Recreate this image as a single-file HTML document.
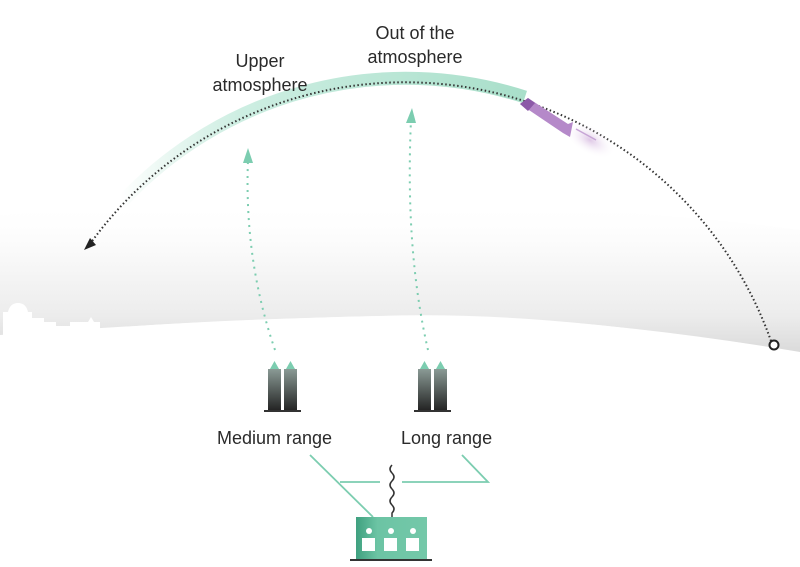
<!DOCTYPE html>
<html><head><meta charset="utf-8"><style>
html,body{margin:0;padding:0;background:#fff;}
svg{display:block;}
text{font-family:"Liberation Sans",sans-serif;fill:#2a2a2a;font-size:18px;}
</style></head><body>
<svg width="800" height="567" viewBox="0 0 800 567" xmlns="http://www.w3.org/2000/svg">
<defs>
<linearGradient id="haze" x1="0" y1="0" x2="0" y2="1">
<stop offset="0" stop-color="#fff" stop-opacity="0"/>
<stop offset="0.35" stop-color="#f9f9f9"/>
<stop offset="0.75" stop-color="#ececec"/>
<stop offset="1" stop-color="#d9d9d9"/>
</linearGradient>
<linearGradient id="band" x1="120" y1="0" x2="525" y2="0" gradientUnits="userSpaceOnUse">
<stop offset="0" stop-color="#c5eadb" stop-opacity="0"/>
<stop offset="0.3" stop-color="#cdeee2"/>
<stop offset="1" stop-color="#a9dfca"/>
</linearGradient>
<linearGradient id="tube" x1="0" y1="0" x2="0" y2="1">
<stop offset="0" stop-color="#8a9a95"/>
<stop offset="1" stop-color="#222"/>
</linearGradient>
<linearGradient id="bld" x1="0" y1="0" x2="1" y2="0">
<stop offset="0" stop-color="#3fa07f"/>
<stop offset="0.3" stop-color="#6cc4a4"/>
<stop offset="1" stop-color="#74c8a9"/>
</linearGradient>
<radialGradient id="glow" cx="0.5" cy="0.5" r="0.5">
<stop offset="0" stop-color="#c9a3d6" stop-opacity="0.6"/>
<stop offset="1" stop-color="#fff" stop-opacity="0"/>
</radialGradient>
</defs>
<!-- haze -->
<path d="M0 215 Q400 180 800 230 L800 355 Q560 310 380 316 Q200 320 0 335 Z" fill="url(#haze)"/>
<!-- skyline cutout -->
<path d="M3 345 L3 312 L8 312 Q10 303 18 303 Q26 303 28 312 L32 312 L32 318 L44 318 L44 322 L56 322 L56 326 L70 326 L70 322 L88 322 L91 317 L94 322 L100 322 L100 329 Q200 320 380 316 Q560 312 800 352 L800 567 L0 567 Z" fill="#fff"/>
<!-- trajectory band -->
<path d="M120 204 A388 388 0 0 1 525 97" fill="none" stroke="url(#band)" stroke-width="13"/>
<!-- dotted trajectory -->
<path d="M771 341 A388 388 0 0 0 90 244" fill="none" stroke="#333" stroke-width="2" stroke-dasharray="1.5 2.5"/>
<polygon points="84,250 90,238 96,245" fill="#222"/>
<circle cx="774" cy="345" r="4.5" fill="#fff" stroke="#222" stroke-width="2"/>
<!-- missile -->
<ellipse cx="590" cy="140" rx="28" ry="14" fill="url(#glow)" transform="rotate(30 590 140)"/>
<rect x="595" y="110" width="20" height="50" fill="#fff" opacity="0"/>
<polygon points="520,104 528,98 568,124 573,122 570,137 563,133" fill="#b589c9"/>
<polygon points="520,104 528,98 535,103 528,111" fill="#8c5aa8"/>
<line x1="576" y1="129" x2="596" y2="140" stroke="#c7a5d6" stroke-width="1.5"/>
<!-- interceptor paths -->
<path d="M275 350 Q244 260 248 160" fill="none" stroke="#7ccdb0" stroke-width="2" stroke-dasharray="2 5"/>
<polygon points="243,163 248,148 253,163" fill="#7ccdb0"/>
<path d="M428 350 Q405 250 411 120" fill="none" stroke="#7ccdb0" stroke-width="2" stroke-dasharray="2 5"/>
<polygon points="406,123 412,108 416,123" fill="#7ccdb0"/>
<!-- launchers -->
<g>
<rect x="268" y="369" width="13" height="42" fill="url(#tube)"/>
<rect x="284" y="369" width="13" height="42" fill="url(#tube)"/>
<polygon points="270,369 274.5,361 279,369" fill="#7ccdb0"/>
<polygon points="286,369 290.5,361 295,369" fill="#7ccdb0"/>
<rect x="264" y="410" width="37" height="2" fill="#333"/>
</g>
<g>
<rect x="418" y="369" width="13" height="42" fill="url(#tube)"/>
<rect x="434" y="369" width="13" height="42" fill="url(#tube)"/>
<polygon points="420,369 424.5,361 429,369" fill="#7ccdb0"/>
<polygon points="436,369 440.5,361 445,369" fill="#7ccdb0"/>
<rect x="414" y="410" width="37" height="2" fill="#333"/>
</g>
<!-- labels -->
<text x="260" y="67" text-anchor="middle">Upper</text>
<text x="260" y="91" text-anchor="middle">atmosphere</text>
<text x="415" y="39" text-anchor="middle">Out of the</text>
<text x="415" y="63" text-anchor="middle">atmosphere</text>
<text x="217" y="444">Medium range</text>
<text x="401" y="444">Long range</text>
<!-- connectors -->
<g stroke="#7ccdb0" stroke-width="1.8" fill="none">
<polyline points="310,455 373,517"/>
<polyline points="340,482 380,482"/>
<polyline points="402,482 488,482 462,455"/>
</g>
<!-- antenna -->
<path d="M392 465 q-4 4 0 8 q4 4 0 8 q-4 4 0 8 q4 4 0 8 q-4 4 0 8 q4 4 0 8 L392 517" fill="none" stroke="#333" stroke-width="1.5"/>
<!-- building -->
<rect x="356" y="517" width="71" height="43" fill="url(#bld)"/>
<g fill="#fff">
<circle cx="369" cy="531" r="3"/><circle cx="391" cy="531" r="3"/><circle cx="413" cy="531" r="3"/>
<rect x="362" y="538" width="13" height="13"/><rect x="384" y="538" width="13" height="13"/><rect x="406" y="538" width="13" height="13"/>
</g>
<rect x="350" y="559" width="82" height="2" fill="#333"/>
</svg>
</body></html>
